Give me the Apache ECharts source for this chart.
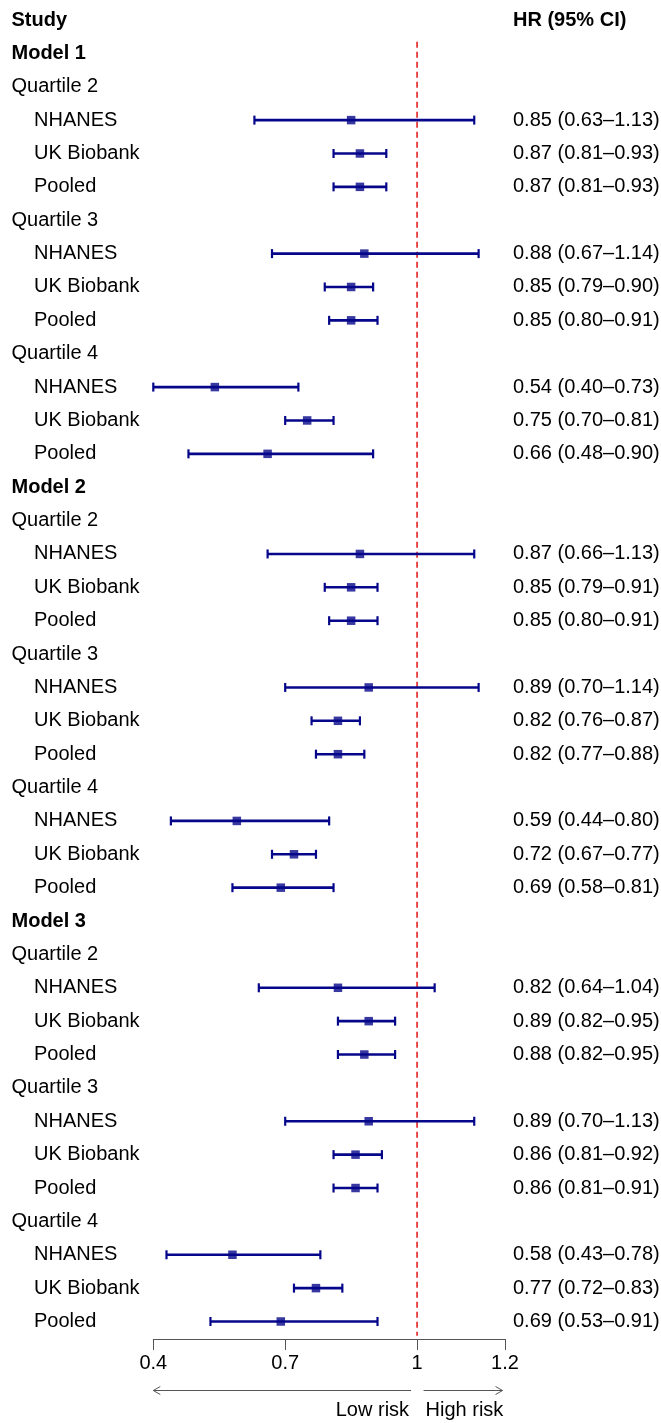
<!DOCTYPE html>
<html>
<head>
<meta charset="utf-8">
<script src="https://cdn.jsdelivr.net/npm/echarts@6/dist/echarts.min.js"></script>
<style>html,body{margin:0;padding:0;background:#fff}#c{width:661px;height:1423px}</style>
</head>
<body>
<div id="c"></div>
<script>
const models = ['Model 1', 'Model 2', 'Model 3'];
const quartiles = ['Quartile 2', 'Quartile 3', 'Quartile 4'];
const studies = ['NHANES', 'UK Biobank', 'Pooled'];
const hr    = [0.85,0.87,0.87, 0.88,0.85,0.85, 0.54,0.75,0.66,
               0.87,0.85,0.85, 0.89,0.82,0.82, 0.59,0.72,0.69,
               0.82,0.89,0.88, 0.89,0.86,0.86, 0.58,0.77,0.69];
const lower = [0.63,0.81,0.81, 0.67,0.79,0.80, 0.40,0.70,0.48,
               0.66,0.79,0.80, 0.70,0.76,0.77, 0.44,0.67,0.58,
               0.64,0.82,0.82, 0.70,0.81,0.81, 0.43,0.72,0.53];
const upper = [1.13,0.93,0.93, 1.14,0.90,0.91, 0.73,0.81,0.90,
               1.13,0.91,0.91, 1.14,0.87,0.88, 0.80,0.77,0.81,
               1.04,0.95,0.95, 1.13,0.92,0.91, 0.78,0.83,0.91];
const xTicks = [0.4, 0.7, 1, 1.2];
const refValue = 1;
const headerLeft = 'Study';
const headerRight = 'HR (95% CI)';
const lowText = 'Low risk';
const highText = 'High risk';

const FONT = "'Liberation Sans', Arial, Helvetica, sans-serif";
const FS = 20;
const NAVY = '#06068a';

// build rows
const rows = [{t: headerLeft, k: 'h', r: headerRight}];
const ciData = [], ptData = [];
let n = 0;
models.forEach(m => {
  rows.push({t: m, k: 'm', r: ''});
  quartiles.forEach(q => {
    rows.push({t: q, k: 'q', r: ''});
    studies.forEach(s => {
      const ri = rows.length;
      rows.push({t: s, k: 's', r: hr[n].toFixed(2) + ' (' + lower[n].toFixed(2) + '\u2013' + upper[n].toFixed(2) + ')'});
      ciData.push([lower[n], upper[n], ri]);
      ptData.push([hr[n], ri]);
      n++;
    });
  });
});
const lastRow = rows.length - 1;
const cats = rows.map((r, i) => String(i));

const chart = echarts.init(document.getElementById('c'), null, {renderer: 'canvas'});

const band = (1321.5 - 20) / 39;
const gridTop = 20 - band / 2;
const gridBottomPx = gridTop + band * rows.length;

const richBase = {fontFamily: FONT, fontSize: FS, color: '#000'};
const option = {
  backgroundColor: '#fff',
  animation: false,
  textStyle: {fontFamily: FONT},
  grid: {left: 153.3, right: 156, top: gridTop, bottom: 1423 - gridBottomPx, containLabel: false, outerBoundsMode: 'none'},
  xAxis: {
    type: 'value', min: 0.4, max: 1.2, offset: 1339 - gridBottomPx,
    splitLine: {show: false},
    axisLine: {show: true, lineStyle: {color: '#555', width: 1}},
    axisTick: {show: true, length: 11, lineStyle: {color: '#555', width: 1}, customValues: xTicks},
    axisLabel: {customValues: xTicks, formatter: v => String(v), fontFamily: FONT, fontSize: FS, color: '#000', margin: 14}
  },
  yAxis: [{
    type: 'category', data: cats, inverse: true, position: 'left',
    axisLine: {show: false}, axisTick: {show: false}, splitLine: {show: false},
    axisLabel: {
      interval: 0, align: 'left', margin: 153.3 - 11.5,
      formatter: (v, i) => '{' + rows[i].k + '|' + rows[i].t + '}',
      rich: {
        h: Object.assign({}, richBase, {fontWeight: 'bold'}),
        m: Object.assign({}, richBase, {fontWeight: 'bold'}),
        q: Object.assign({}, richBase),
        s: Object.assign({}, richBase, {padding: [0, 0, 0, 22.5]})
      }
    }
  }, {
    type: 'category', data: cats, inverse: true, position: 'right',
    axisLine: {show: false}, axisTick: {show: false}, splitLine: {show: false},
    axisLabel: {
      interval: 0, align: 'left', margin: 513 - 505,
      formatter: (v, i) => rows[i].r ? ('{' + (rows[i].k === 'h' ? 'h' : 'n') + '|' + rows[i].r + '}') : '',
      rich: {
        h: Object.assign({}, richBase, {fontWeight: 'bold'}),
        n: Object.assign({}, richBase)
      }
    }
  }],
  series: [
    {
      type: 'custom', name: 'ref', clip: false, silent: true,
      data: [[refValue, 0]],
      encode: {x: 0, y: 1},
      renderItem: (params, api) => {
        const p0 = api.coord([api.value(0), 0]);
        const b = api.size([0, 1])[1];
        return {type: 'line', shape: {x1: p0[0], y1: p0[1] + 0.65 * b, x2: p0[0], y2: p0[1] + (lastRow + 0.43) * b},
          style: {stroke: '#e32222', lineWidth: 1.6, lineDash: [6, 4]}};
      }
    },
    {
      type: 'custom', name: 'ci', clip: false,
      data: ciData,
      encode: {x: [0, 1], y: 2},
      renderItem: (params, api) => {
        const lo = api.coord([api.value(0), api.value(2)]);
        const hi = api.coord([api.value(1), api.value(2)]);
        const y = lo[1], h = 4.5;
        return {type: 'group', children: [
          {type: 'line', shape: {x1: lo[0], y1: y, x2: hi[0], y2: y}, style: {stroke: NAVY, lineWidth: 2.6}},
          {type: 'line', shape: {x1: lo[0], y1: y - h, x2: lo[0], y2: y + h}, style: {stroke: NAVY, lineWidth: 2.2}},
          {type: 'line', shape: {x1: hi[0], y1: y - h, x2: hi[0], y2: y + h}, style: {stroke: NAVY, lineWidth: 2.2}}
        ]};
      }
    },
    {
      type: 'scatter', name: 'hr', symbol: 'rect', symbolSize: 8.5,
      data: ptData, itemStyle: {color: NAVY}, z: 5
    },
    {
      type: 'custom', name: 'annot', clip: false, silent: true,
      data: [[xTicks[0], refValue, xTicks[xTicks.length - 1], lastRow]],
      encode: {x: [0, 1, 2], y: 3},
      renderItem: (params, api) => {
        const pL = api.coord([api.value(0), api.value(3)]);
        const pR = api.coord([api.value(1), api.value(3)]);
        const pE = api.coord([api.value(2), api.value(3)]);
        const ya = pL[1] + 69, yt = pL[1] + 89;
        const st = {stroke: '#555', lineWidth: 1, fill: null};
        const x0 = pL[0], x1 = pR[0] - 6, x2 = pR[0] + 6.5, x3 = pE[0] - 2.5;
        return {type: 'group', children: [
          {type: 'line', shape: {x1: x0, y1: ya, x2: x1, y2: ya}, style: st},
          {type: 'polyline', shape: {points: [[x0 + 7, ya - 4], [x0, ya], [x0 + 7, ya + 4]]}, style: st},
          {type: 'line', shape: {x1: x2, y1: ya, x2: x3, y2: ya}, style: st},
          {type: 'polyline', shape: {points: [[x3 - 7, ya - 4], [x3, ya], [x3 - 7, ya + 4]]}, style: st},
          {type: 'text', style: {text: lowText, x: pR[0] - 8, y: yt, align: 'right', verticalAlign: 'middle', fontFamily: FONT, fontSize: FS, fill: '#000'}},
          {type: 'text', style: {text: highText, x: pR[0] + 8.5, y: yt, align: 'left', verticalAlign: 'middle', fontFamily: FONT, fontSize: FS, fill: '#000'}}
        ]};
      }
    }
  ]
};
chart.setOption(option);
</script>
</body>
</html>
